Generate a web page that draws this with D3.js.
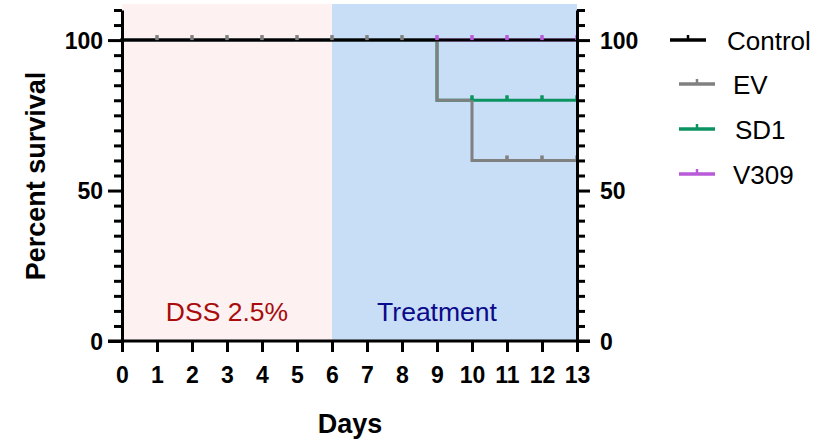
<!DOCTYPE html>
<html><head><meta charset="utf-8">
<script src="https://cdn.jsdelivr.net/npm/d3@7"></script>
<style>body{margin:0;background:#fff}svg{display:block;font-family:Arial,"Liberation Sans",sans-serif}</style>
</head><body><svg id="c" width="817" height="443"></svg>
<script>
const days = [0,1,2,3,4,5,6,7,8,9,10,11,12,13];
const seriesNames = ["Control","EV","SD1","V309"];
const seriesColors = ["#000000","#808080","#0b9462","#b95ad8"];
// step survival curves: [day, percent]
const controlSteps = [[0,100],[13,100]];
const evSteps = [[0,100],[9,100],[9,80],[10,80],[10,60],[13,60]];
const sd1Steps = [[0,100],[9,100],[9,80],[13,80]];
const v309Steps = [[0,100],[13,100]];
// censor marks: [day, percent]
const controlCensor = [];
const evCensor = [[1,100],[2,100],[3,100],[4,100],[5,100],[6,100],[7,100],[8,100],[11,60],[12,60],[13,60]];
const sd1Censor = [[10,80],[11,80],[12,80],[13,80]];
const v309Censor = [[9,100],[10,100],[11,100],[12,100],[13,100]];
const yTickLabels = [0,50,100];
const phases = [{label:"DSS 2.5%", from:0, to:6, labelDay:3}, {label:"Treatment", from:6, to:13, labelDay:9}];

const FONT = "Arial, 'Liberation Sans', sans-serif";
const svg = d3.select("#c");
const x = d3.scaleLinear().domain([0,13]).range([122,577]);
const y = d3.scaleLinear().domain([0,110]).range([341,10]);

// phase backgrounds
const phaseFill = ["#fdf1f1","#c8ddf6"];
const phaseText = ["#a80c0c","#0a0a8a"];
svg.selectAll("rect.ph").data(phases).join("rect")
  .attr("x", d=>x(d.from)).attr("y", y(112)).attr("width", d=>x(d.to)-x(d.from)).attr("height", y(0)-y(112))
  .attr("fill",(d,i)=>phaseFill[i]);
svg.selectAll("text.ph").data(phases).join("text")
  .attr("x", d=>x(d.labelDay)).attr("y", 321).attr("text-anchor","middle")
  .attr("font-size", 26.5).attr("fill",(d,i)=>phaseText[i]).text(d=>d.label);

const line = d3.line().x(d=>x(d[0])).y(d=>y(d[1]));
const allSteps = [controlSteps, evSteps, sd1Steps, v309Steps];
const allCensor = [controlCensor, evCensor, sd1Censor, v309Censor];
const drawOrder = [3,2,1,0];
drawOrder.forEach(i=>{
  svg.append("path").attr("d", line(allSteps[i])).attr("fill","none")
    .attr("stroke", seriesColors[i]).attr("stroke-width",3).attr("stroke-linejoin","miter").attr("stroke-linecap","square");
});
[0,1,2,3].forEach(i=>{
  svg.selectAll(null).data(allCensor[i]).join("line")
    .attr("x1", d=>x(d[0])).attr("x2", d=>x(d[0]))
    .attr("y1", d=>y(d[1])).attr("y2", d=>y(d[1])-5)
    .attr("stroke", seriesColors[i]).attr("stroke-width",3.5);
});

// axes
const yTicksAll = d3.range(0,111,5);
const gL = svg.append("g").attr("transform",`translate(${x(0)},0)`)
  .call(d3.axisLeft(y).tickValues(yTicksAll).tickSize(0).tickFormat(""));
const gR = svg.append("g").attr("transform",`translate(${x(13)},0)`)
  .call(d3.axisRight(y).tickValues(yTicksAll).tickSize(0).tickFormat(""));
[gL,gR].forEach(g=>{ g.select(".domain").attr("stroke","#000").attr("stroke-width",3); });
gL.selectAll(".tick line").attr("x2", d=>yTickLabels.includes(d)?-14:-8).attr("stroke","#000").attr("stroke-width",3);
gR.selectAll(".tick line").attr("x2", d=>yTickLabels.includes(d)?13:8).attr("stroke","#000").attr("stroke-width",3);
gL.selectAll(".tick").filter(d=>yTickLabels.includes(d)).append("text")
  .attr("x",-19).attr("dy","0.36em").attr("text-anchor","end").attr("fill","#000")
  .attr("font-size",23).attr("font-weight","bold").attr("font-family",FONT).text(d=>d);
gR.selectAll(".tick").filter(d=>yTickLabels.includes(d)).append("text")
  .attr("x",23).attr("dy","0.36em").attr("text-anchor","start").attr("fill","#000")
  .attr("font-size",23).attr("font-weight","bold").attr("font-family",FONT).text(d=>d);

const gX = svg.append("g").attr("transform",`translate(0,${y(0)})`)
  .call(d3.axisBottom(x).tickValues(days).tickSize(11).tickPadding(15).tickFormat(d=>d));
gX.select(".domain").attr("stroke","#000").attr("stroke-width",3).attr("d",`M${x(0)-14},0H${x(13)+13}`);
gX.selectAll(".tick line").attr("stroke","#000").attr("stroke-width",3);
gX.selectAll(".tick text").attr("font-size",23).attr("font-weight","bold").attr("fill","#000")
  .attr("font-family",FONT);

// axis titles
svg.append("text").attr("transform","translate(45,176) rotate(-90)").attr("text-anchor","middle")
  .attr("font-size",27).attr("font-weight","bold").text("Percent survival");
svg.append("text").attr("x",350).attr("y",433).attr("text-anchor","middle")
  .attr("font-size",27).attr("font-weight","bold").text("Days");

// legend
const legY = [40,84,129,174];
const legX1 = [670,679,679,679];
const legX2 = [706,715,715,715];
const legTX = [727,733,735,733];
seriesNames.forEach((n,i)=>{
  const g = svg.append("g");
  g.append("line").attr("x1",legX1[i]).attr("x2",legX2[i]).attr("y1",legY[i]).attr("y2",legY[i])
    .attr("stroke",seriesColors[i]).attr("stroke-width",3.5);
  const mx=(legX1[i]+legX2[i])/2;
  g.append("line").attr("x1",mx).attr("x2",mx).attr("y1",legY[i]).attr("y2",legY[i]-5)
    .attr("stroke",seriesColors[i]).attr("stroke-width",2.5);
  g.append("text").attr("x",legTX[i]).attr("y",legY[i]+10).attr("font-size",26)
    .attr("fill","#000").text(n);
});
</script></body></html>
